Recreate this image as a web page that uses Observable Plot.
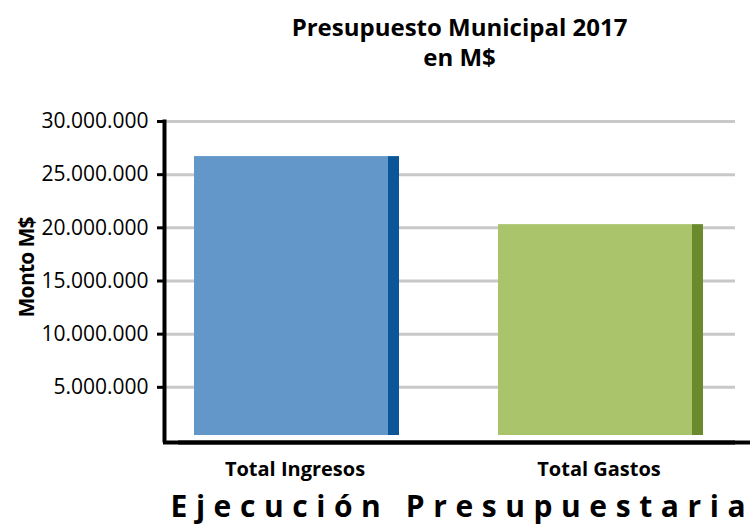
<!DOCTYPE html>
<html>
<head>
<meta charset="utf-8">
<script src="https://cdn.jsdelivr.net/npm/d3@7"></script>
<script src="https://cdn.jsdelivr.net/npm/@observablehq/plot@0.6"></script>
<style>
  html, body { margin: 0; padding: 0; background: #fff; }
</style>
</head>
<body>
<div id="chart"></div>
<script>
const categories = ["Total Ingresos", "Total Gastos"];
const values = [26700000, 20300000];
const lightColors = ["#6396c9", "#aac46c"];
const darkColors = ["#0b5699", "#6a8a2d"];
const yTicks = [5000000, 10000000, 15000000, 20000000, 25000000, 30000000];
const titleLines = ["Presupuesto Municipal 2017", "en M$"];
const yLabel = "Monto M$";
const bottomTitle = "Ejecución Presupuestaria";

const data = categories.map((c, i) => ({cat: c, value: values[i], light: lightColors[i], dark: darkColors[i]}));
const fmt = d3.formatLocale({decimal: ",", thousands: ".", grouping: [3], currency: ["$", ""]}).format(",");

const chart = Plot.plot({
  width: 750,
  height: 526,
  marginLeft: 163,
  marginRight: 15,
  marginTop: 121,
  marginBottom: 86,
  style: {fontFamily: "Open Sans", fontSize: "20px", color: "#000", background: "#fff", overflow: "visible"},
  x: {domain: categories, range: [144.5, 752.5], paddingInner: 0.326, paddingOuter: 0.163, align: 0.5, axis: null, label: null},
  y: {domain: [0, 30000000], axis: null, label: null},
  color: {type: "identity"},
  marks: [
    Plot.ruleY(yTicks, {stroke: "#c8c8c8", strokeWidth: 3}),
    Plot.barY(data, {x: "cat", y: "value", fill: "light", insetRight: 11, insetBottom: 5}),
    Plot.barY(data, {x: "cat", y: "value", fill: "dark", insetLeft: 194, insetBottom: 5}),
    Plot.axisY({ticks: yTicks, tickFormat: fmt, tickSize: 6, tickPadding: 9, strokeWidth: 3, fontSize: 21, fill: "#000", stroke: "#000", label: null}),
    Plot.frame({anchor: "left", stroke: "#000", strokeWidth: 4, dx: 1}),
    Plot.ruleY([0], {stroke: "#000", strokeWidth: 4, dy: 2}),
    Plot.ruleY([0], {stroke: "#000", strokeWidth: 4, dy: 2, dx: 15}),
    Plot.axisX({tickSize: 0, tickPadding: 21, fontSize: 20, fontWeight: "bold", fill: "#000", label: null, dx: -2}),
    Plot.text([titleLines[0]], {frameAnchor: "top", dx: 10, dy: -93, lineAnchor: "middle", fontSize: 24, fontWeight: "bold", fill: "#000"}),
    Plot.text([titleLines[1]], {frameAnchor: "top", dx: 10, dy: -63, lineAnchor: "middle", fontSize: 24, fontWeight: "bold", fill: "#000"}),
    Plot.text([yLabel], {frameAnchor: "left", textAnchor: "middle", dx: -136, dy: -14, rotate: -90, lineAnchor: "middle", fontSize: 21, fontWeight: "bold", fill: "#000"}),
    Plot.text([bottomTitle], {frameAnchor: "bottom-left", textAnchor: "start", dx: 7, dy: 67, lineAnchor: "middle", fontSize: 30, fontWeight: "bold", fill: "#000"})
  ]
});
d3.select(chart).selectAll("text").filter(function () { return this.textContent === bottomTitle; })
  .attr("textLength", 575).attr("lengthAdjust", "spacing");
d3.select(chart).selectAll("text").filter(function () { return this.textContent === yLabel; })
  .attr("textLength", 101).attr("lengthAdjust", "spacing");
document.getElementById("chart").appendChild(chart);
</script>
</body>
</html>
